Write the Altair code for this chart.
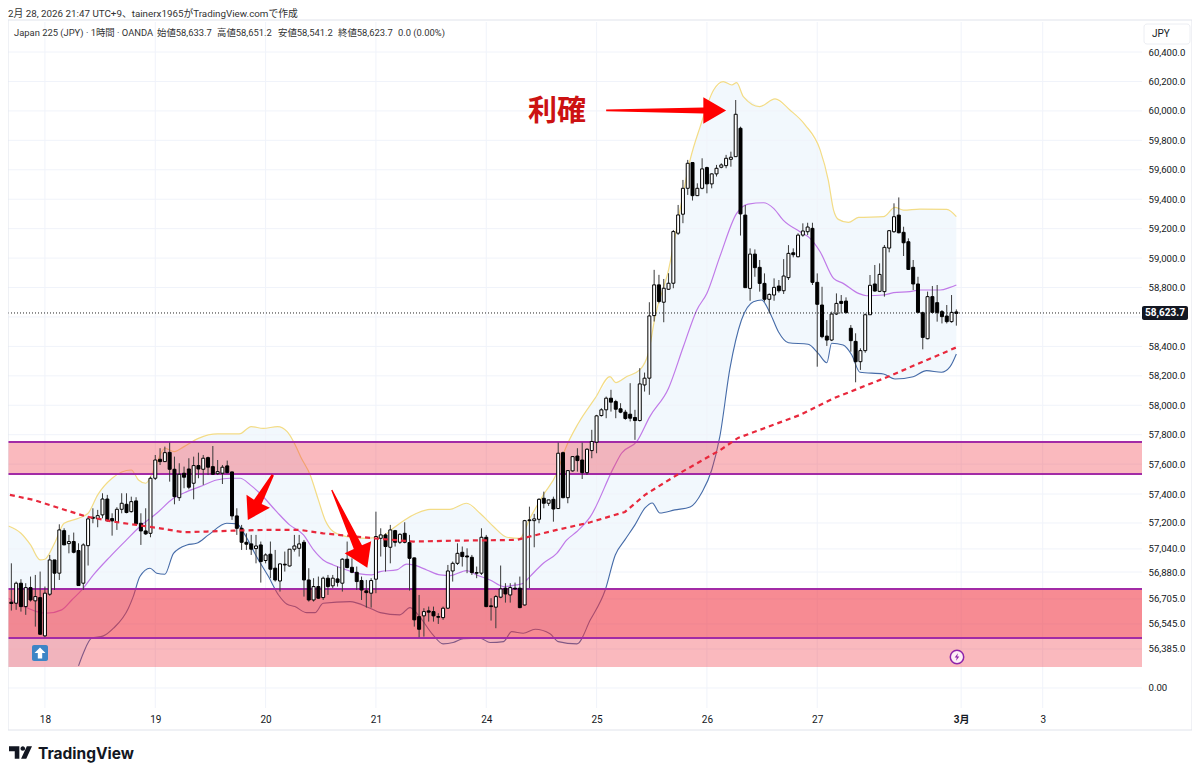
import altair as alt
import pandas as pd

opens = [56662,56655,56791,56632,56761,56671,56693,56433,56716,56949,
56859,57148,57060,57074,57013,56791,57046,57239,57230,57255,
57363,57230,57205,57293,57327,57277,57350,57198,57146,57130,
57504,57633,57617,57680,57565,57372,57538,57567,57470,57590,
57565,57644,57583,57535,57538,57588,57547,57248,57164,57069,
57058,57026,57051,56945,56988,56893,56806,56920,56908,57022,
57028,57069,56813,56677,56768,56693,56825,56773,56820,56791,
56954,56899,56865,56809,56739,56723,56818,57096,57119,57035,
57148,57069,57130,57067,56963,56564,56569,56603,56598,56564,
56557,56621,56874,56926,57001,56976,56967,56863,56859,57103,
56637,56628,56696,56757,56711,56757,56757,56643,57221,57216,
57225,57368,57334,57361,57298,57678,57372,57554,57655,57628,
57542,57692,57749,57930,57969,58048,58025,57976,57953,57939,
57917,57896,58138,58184,58609,58818,58700,58788,58829,59169,
59298,59474,59649,59424,59474,59615,59504,59572,59617,59628,
59671,59689,59882,59292,58794,59027,58937,58828,58720,58749,
58810,58778,58867,59036,59009,59156,59179,59202,58835,58681,
58470,58443,58620,58706,58708,58523,58434,58296,58371,58615,
58824,58774,58772,59068,59179,59292,59175,59111,58937,58824,
58629,58452,58738,58697,58636,58606,58568,58634]

closes = [56653,56791,56632,56761,56677,56700,56444,56723,56949,56859,
57153,57051,57074,57001,56775,57051,57228,57232,57250,57363,
57216,57214,57293,57334,57271,57345,57194,57146,57126,57504,
57628,57617,57678,57565,57379,57531,57511,57443,57590,57567,
57640,57579,57531,57549,57579,57542,57248,57164,57069,57056,
57022,57044,56938,56983,56886,56813,56922,56915,57022,57044,
57058,56813,56677,56768,56689,56825,56768,56825,56797,56954,
56897,56865,56802,56745,56727,56809,57108,57119,57040,57153,
57069,57123,57069,56960,56542,56478,56598,56594,56569,56560,
56621,56874,56926,56994,56972,56969,56863,56859,57103,56632,
56632,56700,56752,56718,56761,56752,56625,57216,57216,57228,
57361,57334,57357,57295,57674,57372,57556,57651,57624,57542,
57701,57754,57928,57969,58048,58021,57973,57953,57910,57912,
57896,58145,58184,58607,58818,58705,58795,58829,59180,59293,
59474,59644,59424,59474,59606,59504,59572,59610,59633,59678,
59685,59977,59300,58799,59027,58935,58828,58720,58753,58801,
58778,58878,59032,59023,59156,59184,59211,58835,58686,58466,
58443,58620,58692,58692,58629,58439,58296,58371,58615,58815,
58776,58889,59073,59186,59281,59172,59104,58923,58824,58631,
58461,58738,58631,58629,58602,58568,58631,58624]

highs = [56926,56802,56818,56791,56836,56847,56870,56768,56983,56949,
57191,57164,57119,57135,57062,57062,57243,57300,57289,57402,
57391,57266,57307,57402,57402,57379,57375,57266,57300,57515,
57662,57708,57719,57746,57651,57606,57583,57640,57651,57678,
57662,57651,57723,57628,57594,57624,57549,57300,57187,57130,
57119,57119,57074,56994,57074,57017,56926,57006,57022,57119,
57119,57085,56893,56825,56836,56836,56847,56847,56904,56960,
57074,56960,56904,56836,56813,56825,57277,57164,57130,57187,
57153,57130,57205,57119,56965,56711,56621,56632,56632,56587,
56632,56915,56938,57062,57040,57028,56983,56904,57164,57119,
56689,56711,56911,56791,56791,56795,56836,57221,57311,57262,
57368,57413,57357,57379,57746,57685,57560,57655,57708,57746,
57708,57833,57935,57980,58059,58105,58037,58014,57969,58150,
57969,58252,58222,58700,58920,58886,58858,58897,59191,59361,
59531,59667,59649,59508,59678,59621,59576,59633,59644,59701,
59723,60074,59893,59360,59066,59059,58987,58896,58760,58862,
58851,58993,59088,59066,59168,59236,59240,59240,58896,58805,
58579,58636,58760,58749,58733,58545,58489,58387,58624,58885,
58953,58964,59089,59190,59372,59412,59213,59134,58987,58873,
58636,58772,58810,58817,58647,58681,58749,58651]

lows = [56605,56610,56598,56576,56666,56496,56440,56424,56705,56745,
56813,57051,56994,56994,56775,56745,56911,57198,57171,57232,
57209,57114,57153,57266,57266,57271,57187,57051,57119,57103,
57492,57594,57617,57481,57327,57350,57436,57429,57361,57504,
57459,57526,57526,57526,57465,57538,57221,57119,57017,57017,
56983,56926,56795,56926,56825,56802,56734,56870,56904,57006,
56972,56700,56666,56666,56684,56677,56711,56757,56768,56734,
56893,56859,56745,56677,56625,56625,56723,56972,56870,56926,
57040,57058,57062,56741,56496,56424,56428,56530,56530,56514,
56542,56616,56802,56915,56904,56859,56847,56825,56847,56628,
56537,56485,56689,56659,56659,56745,56621,56639,56757,57035,
57198,57300,57316,57209,57295,57368,57334,57549,57549,57499,
57526,57640,57674,57923,57912,57957,57912,57946,57901,57890,
57765,57890,58093,58071,58569,58693,58564,58784,58795,59157,
59237,59429,59391,59422,59467,59440,59474,59554,59610,59610,
59621,59689,59153,58799,58710,58873,58772,58704,58624,58710,
58765,58756,58851,59005,59005,59145,59156,58817,58262,58455,
58403,58436,58613,58624,58624,58364,58156,58240,58357,58615,
58772,58769,58738,59039,59172,59168,59014,58919,58783,58624,
58380,58448,58624,58568,58556,58556,58561,58541]

upper_x = [-0.6,2,4,6,7,9,11,14,16,18,21,25,26.5,28,30,32,34,36,39,43,47.5,50,52.5,55.5,57.5,59,60.3,
           62.3,64,65.4,67.1,69.9,74,77.2,79.6,82,84.5,87.3,91.4,94.9,97.7,100.5,103.3,106,108.1,110.9,113.7,
           115.4,118.2,121.7,124.8,126,128.3,131,132.8,134.2,137,139.4,141.5,143.6,146.4,148.4,150.2,151.2,152.6,156,
           159.2,162.3,165.5,168.6,170.3,171.4,172.4,174.5,176.6,181.8,184.2,186,189.4,195,197]
upper_y = [57180,57130,57051,56949,56954,57062,57198,57232,57266,57391,57504,57560,57492,57470,57583,57708,57685,57719,57775,57805,57805,57855,57843,57855,57821,57742,57650,
           57526,57357,57221,57142,57108,57096,57108,57164,57221,57266,57293,57293,57334,57266,57176,57103,57096,57232,57391,57538,
           57697,57878,58048,58195,58154,58195,58240,58354,58603,58920,59327,59667,59893,60142,60199,60176,60192,60097,60029,
           60081,60006,59904,59735,59530,59326,59263,59242,59276,59281,59344,59326,59333,59331,59281]

mid_x = [-0.6,1.1,3.5,5.3,7.4,10.5,12.6,14.7,17.1,20.6,24,26.8,30.3,33.8,36.6,39.3,42.8,45.6,47.7,49.8,51.8,55.3,58,
         60.9,63,65,67.1,69.9,72.7,75.1,76.9,80.3,82.4,83.8,86.6,89.4,91.5,94.9,97,99.8,102.6,105.3,106.7,108.1,110.9,113.7,115.8,117.9,120.7,
         125.5,127.2,130.4,133.1,137,140.1,142.9,145,147.7,151.2,153.6,156.8,158.9,160.9,164.4,166.5,168.6,171.4,173.4,176.6,178.3,181.8,183.9,187.3,189.4,193.6,195.7,197]
mid_y = [56689,56655,56621,56598,56587,56610,56677,56745,56847,56972,57085,57176,57266,57368,57413,57447,57492,57504,57504,57459,57402,57277,57187,
         57119,57017,56949,56915,56881,56854,56847,56870,56881,56920,56915,56881,56847,56843,56877,56847,56813,56768,56779,56791,56836,56926,56994,57085,57142,57243,
         57573,57674,57754,57923,58116,58399,58648,58761,59010,59304,59367,59376,59338,59258,59179,59134,59043,58862,58828,58760,58744,58749,58765,58772,58783,58783,58801,58817]

lower_x = [14,15,16.7,19.2,21.3,24.4,25.4,26.8,28.9,30.3,32,33.8,36.6,38.6,41.1,44.9,47,48.7,51.1,53.6,55.7,57.4,59.1,
           61.6,63.3,65,70.6,74.8,76.9,81,83.1,84.8,87.9,90,92.1,94.2,97.7,99.8,102.6,104.3,106.7,109.2,112.3,114,117.9,120.7,
           123.8,125.9,127.9,130,132.1,133.6,135.2,138.3,141.5,144,146,147.7,149.8,
           152.2,154.7,156.4,158.2,159.9,162,166.1,168.2,170,171,173.4,175.2,176.9,181.8,184.2,188,190.8,193.9,195.7,197]
lower_y = [56229,56315,56417,56433,56485,56621,56700,56836,56893,56859,56852,56994,57051,57062,57119,57198,57194,57119,56972,56836,56711,56650,56632,
           56591,56591,56655,56666,56621,56591,56576,56625,56576,56440,56379,56388,56413,56417,56388,56394,56462,56451,56478,56447,56394,56379,56542,
           56745,56983,57085,57187,57302,57336,57268,57289,57309,57411,57560,57788,58250,
           58579,58704,58715,58624,58500,58425,58414,58353,58289,58421,58409,58341,58224,58212,58178,58194,58235,58224,58262,58348]

ma_x = [-0.3,4.6,10.1,15.7,21.3,26.1,31,35.9,40.7,46.3,53.2,60.2,65,75.5,83.8,92.8,105.3,108.1,113.7,120.7,
        127.9,132.1,139.4,147.8,151.5,164.4,171.1,182.6,197.2]
ma_y = [57391,57357,57300,57243,57209,57187,57164,57137,57142,57148,57153,57153,57130,57096,57074,57080,57085,57108,57153,57205,
        57275,57391,57540,57696,57778,57934,58043,58192,58396]

day_ticks = [7,30,53,76,99,122,145,168,198,215]
day_labels = ["18","19","20","21","24","25","26","27","3月","3"]
price_ticks = [60400,60200,60000,59800,59600,59400,59200,59000,58800,58400,58200,58000,57800,57600,57397,57200,57024,56867,56684,56514,56344,56079]
price_labels = ["60,400.0","60,200.0","60,000.0","59,800.0","59,600.0","59,400.0","59,200.0","59,000.0","58,800.0","58,400.0","58,200.0","58,000.0","57,800.0","57,600.0","57,400.0","57,200.0","57,040.0","56,880.0","56,705.0","56,545.0","56,385.0","0.00"]
grid_prices = price_ticks + [58600]
zone_top = [57751, 56752, 56752]
zone_bottom = [57533, 56222, 56419]
zone_lines = [57751, 57533, 56752, 56419]
last_price = 58627
band_floor = 56222

FONT = "Roboto, Noto Sans CJK JP"
quote = lambda seq: "[" + ",".join("'%s'" % s for s in seq) + "]"
xs = alt.Scale(domain=[-0.7, 235.7], nice=False, zero=False, padding=0)
ys = alt.Scale(domain=[55943, 60604], nice=False, zero=False, padding=0)
x_axis = alt.Axis(values=day_ticks, title=None, grid=False, domain=False, ticks=False, labelPadding=6,
                  labelFontSize=10, labelColor="#131722", labelFont=FONT, labelFlush=False, labelOverlap=False,
                  labelFontWeight={"condition": {"test": "datum.value == 198", "value": "bold"}, "value": "normal"},
                  labelExpr=f"{quote(day_labels)}[indexof({day_ticks},datum.value)]")
y_axis = alt.Axis(values=price_ticks, orient="right", title=None, grid=False, domain=False, ticks=False, labelPadding=6,
                  labelFontSize=9.6, labelColor="#131722", labelFont=FONT, labelOverlap=False, labelBound=False,
                  labelFlush=False, labelExpr=f"{quote(price_labels)}[indexof({price_ticks},datum.value)]")
X = alt.X("b:Q", scale=xs, axis=x_axis)
Y = alt.Y("p:Q", scale=ys, axis=y_axis)

def series(xv, yv):
    return pd.DataFrame({"b": xv, "p": yv})

df_up = series(upper_x, upper_y); df_up["f"] = band_floor
df_lo = series(lower_x, lower_y); df_lo["f"] = band_floor

band_top = alt.Chart(df_up).mark_area(color="#f2f8fd", opacity=1).encode(x=X, y=Y, y2="f:Q")
band_mask = alt.Chart(df_lo).mark_area(color="#ffffff", opacity=1).encode(x=X, y=Y, y2="f:Q")

grid_h = alt.Chart(pd.DataFrame({"p": grid_prices})).mark_rule(color="#f0f3fa", strokeWidth=1).encode(
    x=alt.value(0), x2=alt.value(1134), y=Y)
grid_v = alt.Chart(pd.DataFrame({"b": day_ticks})).mark_rule(color="#f0f3fa", strokeWidth=1).encode(
    x=X, y=alt.value(0), y2=alt.value(686))

line_up = alt.Chart(df_up).mark_line(color="#f3dc86", strokeWidth=1.2, interpolate="monotone").encode(x=X, y=Y)
line_mid = alt.Chart(series(mid_x, mid_y)).mark_line(color="#c07ae8", strokeWidth=1.2, interpolate="monotone").encode(x=X, y=Y)
line_lo = alt.Chart(df_lo).mark_line(color="#456ba8", strokeWidth=1.1, interpolate="monotone").encode(x=X, y=Y)

zones = alt.Chart(pd.DataFrame({"p": zone_top, "q": zone_bottom})).mark_rect(color="#f23645", opacity=0.35).encode(
    x=alt.value(0), x2=alt.value(1134), y=Y, y2="q:Q")
zone_rules = alt.Chart(pd.DataFrame({"p": zone_lines})).mark_rule(color="#a22ba6", strokeWidth=2).encode(
    x=alt.value(0), x2=alt.value(1134), y=Y)

candles = pd.DataFrame({"b": range(len(opens)), "o": opens, "h": highs, "l": lows, "c": closes})
candles["up"] = candles.c >= candles.o
candles["p"] = candles[["o", "c"]].max(axis=1)
candles["q"] = candles[["o", "c"]].min(axis=1)
wicks = alt.Chart(candles).mark_rule(color="#3a3a3a", strokeWidth=1).encode(
    x=X, y=alt.Y("h:Q", scale=ys, axis=y_axis), y2="l:Q")
bodies = alt.Chart(candles).mark_bar(size=3, stroke="#000000", strokeWidth=1).encode(
    x=X, y=Y, y2="q:Q",
    fill=alt.Fill("up:N", scale=alt.Scale(domain=[True, False], range=["#ffffff", "#000000"]), legend=None))

ma = alt.Chart(series(ma_x, ma_y)).mark_line(color="#e8283c", strokeWidth=2.2, strokeDash=[5, 4]).encode(x=X, y=Y)
dotted = alt.Chart(pd.DataFrame({"p": [last_price]})).mark_rule(color="#222222", strokeWidth=1, strokeDash=[1, 2]).encode(
    x=alt.value(0), x2=alt.value(1134), y=Y)

def arrow(b, p, path, size, angle):
    return alt.Chart(pd.DataFrame({"b": [b], "p": [p]})).mark_point(
        shape=path, filled=True, color="#ff0000", opacity=1, size=size, angle=angle, strokeWidth=0).encode(x=X, y=Y)

arrows = [
    arrow(136.5, 60003, "M-1,-0.015L0.62,-0.05L0.62,-0.22L1,0L0.62,0.22L0.62,0.05L-1,0.015Z", 14400, 0),
    arrow(51.9, 57374, "M-1,-0.05L0.2,-0.17L0.17,-0.52L1,0L0.17,0.52L0.2,0.17L-1,0.05Z", 2652, 119),
    arrow(70.5, 57160, "M-1,-0.015L0.47,-0.105L0.47,-0.34L1,0L0.47,0.34L0.47,0.105L-1,0.015Z", 7344, 65.5),
]

def label(text, x, y, size=10, color="#131722", align="left", weight="normal", font=FONT):
    return alt.Chart(pd.DataFrame({"t": [text]})).mark_text(
        align=align, baseline="middle", fontSize=size, color=color, fontWeight=weight, font=font).encode(
        text="t:N", x=alt.value(x - 8), y=alt.value(y - 22))

def frame(x1, y1, x2, y2, **kw):
    return alt.Chart(pd.DataFrame({"a": [0]})).mark_rect(**kw).encode(
        x=alt.value(x1 - 8), x2=alt.value(x2 - 8), y=alt.value(y1 - 22), y2=alt.value(y2 - 22))

def glyph(x, y, path, size, color, **kw):
    return alt.Chart(pd.DataFrame({"a": [0]})).mark_point(
        shape=path, filled=True, color=color, opacity=1, size=size, strokeWidth=0, **kw).encode(
        x=alt.value(x - 8), y=alt.value(y - 22))

chrome = [
    frame(8, 20, 1192, 730, fill="transparent", stroke="#e0e3eb", strokeWidth=1),
    frame(1144, 24, 1190, 44, fill="#ffffff", stroke="#eceef3", strokeWidth=1, cornerRadius=3),
    label("JPY", 1152, 34, size=10),
    label("2月 28, 2026 21:47 UTC+9、tainerx1965がTradingView.comで作成", 8, 14, size=9.8, color="#333333"),
    label("Japan 225 (JPY) · 1時間 · OANDA", 14, 33, size=9.4, color="#333333"),
    label("始値58,633.7", 157, 33, size=9.4, color="#333333"),
    label("高値58,651.2", 217, 33, size=9.4, color="#333333"),
    label("安値58,541.2", 278, 33, size=9.4, color="#333333"),
    label("終値58,623.7", 338, 33, size=9.4, color="#333333"),
    label("0.0 (0.00%)", 398, 33, size=9.4, color="#333333"),
    label("利確", 557, 112, size=29, color="#cc1212", align="center", weight="bold", font="Noto Sans CJK JP"),
    frame(1142, 306, 1188, 320, fill="#131722", cornerRadius=2),
    label("58,623.7", 1165, 313, color="#ffffff", align="center", weight="bold"),
    frame(32, 645, 48, 661, fill="#3d85c6", cornerRadius=2),
    glyph(40, 653, "M0,-1L1,0L0.4,0L0.4,1L-0.4,1L-0.4,0L-1,0Z", 120, "#ffffff"),
    alt.Chart(pd.DataFrame({"a": [0]})).mark_point(shape="circle", filled=True, color="#fdeef5", stroke="#8e24aa", strokeWidth=1.5, opacity=1, size=180).encode(
        x=alt.value(957 - 8), y=alt.value(657 - 22)),
    glyph(957, 657, "M0.25,-1L-0.6,0.15L-0.05,0.15L-0.25,1L0.6,-0.15L0.05,-0.15Z", 60, "#8e24aa"),
    glyph(20.5, 752.5, "M-1,-0.55L-0.1,-0.55L-0.1,0.55L-0.5,0.55L-0.5,-0.1L-1,-0.1ZM0,-0.35A0.2,0.2 0 1 0 0.4,-0.35A0.2,0.2 0 1 0 0,-0.35ZM0.05,0.55L0.55,-0.55L1,-0.55L0.5,0.55Z", 529, "#131722"),
    label("TradingView", 38, 753.5, size=15.5, weight=700, font="Inter"),
]

chart = alt.layer(band_top, band_mask, grid_h, grid_v, line_up, line_mid, line_lo, zones, zone_rules,
                  wicks, bodies, dotted, ma, *arrows, *chrome).properties(
    width=1134, height=686, padding={"left": 0, "top": 14, "right": 50, "bottom": 61},
    autosize=alt.AutoSizeParams(type="none"), background="#ffffff"
).configure_view(stroke=None)

chart.save("out.html", embed_options={"renderer": "svg", "actions": False})
